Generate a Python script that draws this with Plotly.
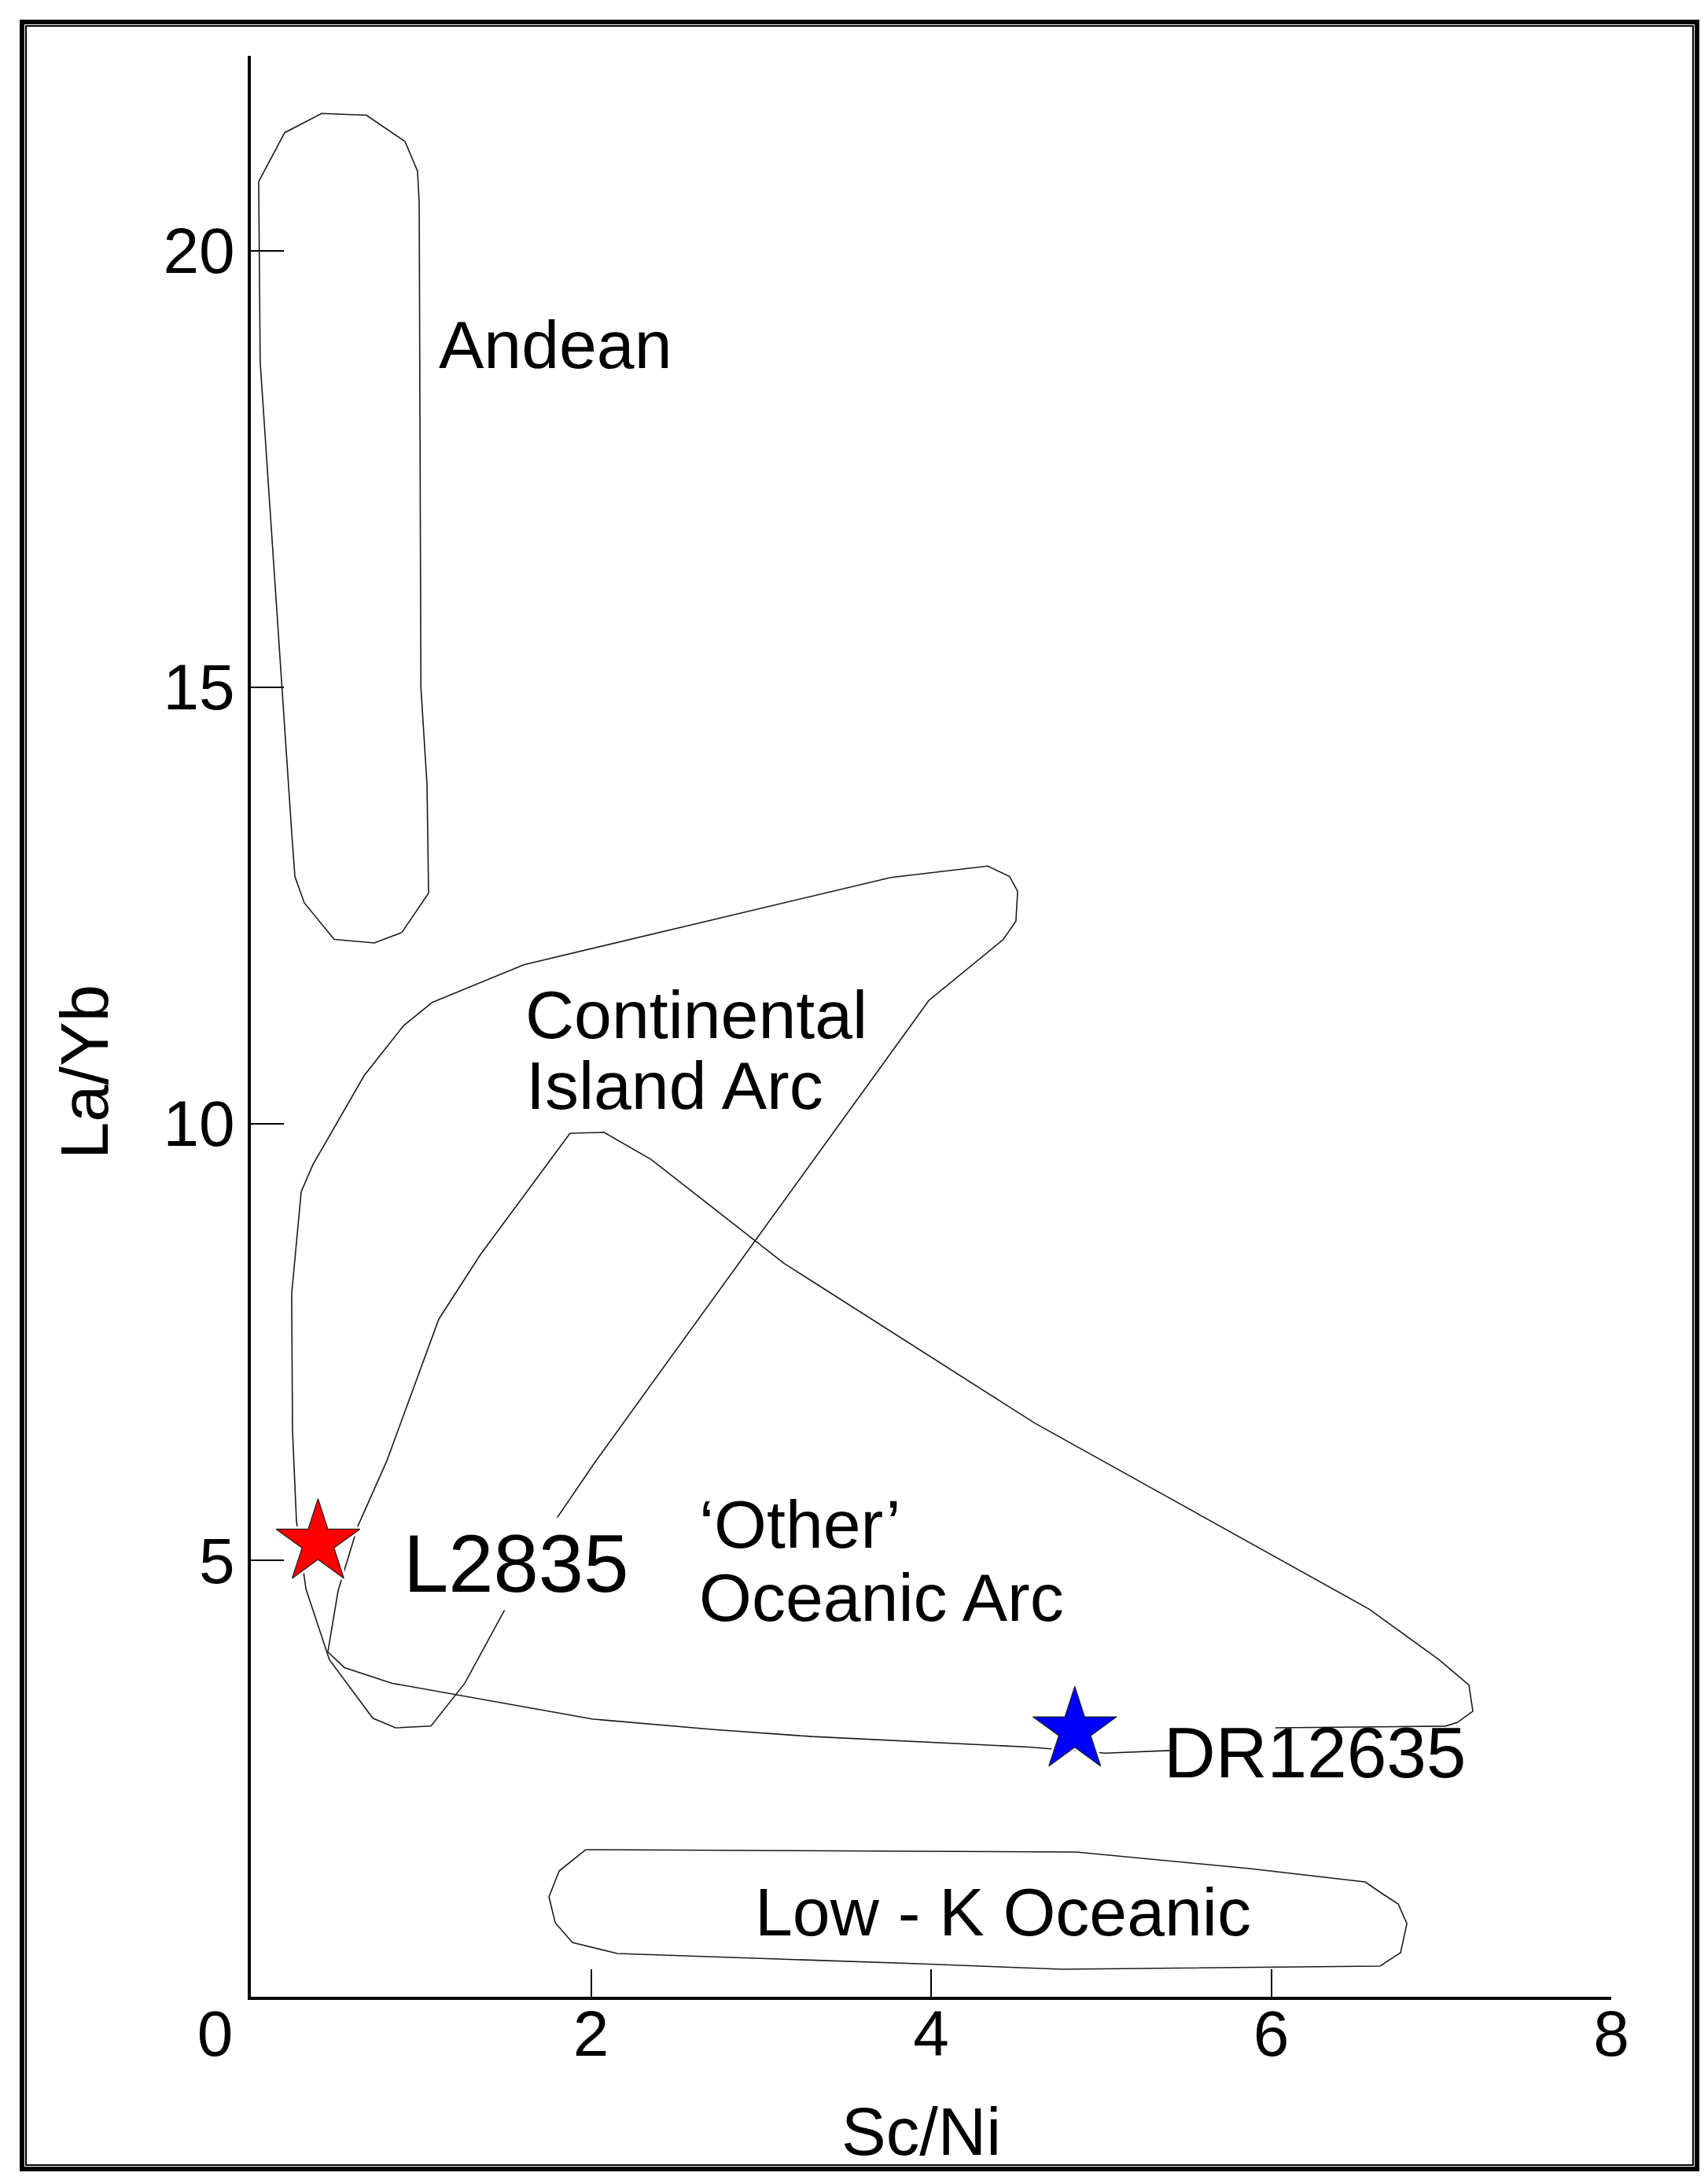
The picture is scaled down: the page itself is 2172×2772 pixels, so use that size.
import plotly.graph_objects as go

# ---------------- data (Sc/Ni vs La/Yb) ----------------
andean_x = [0.046, 0.199, 0.416, 0.680, 0.906, 0.980, 0.990, 1.000, 1.036, 1.045,
            0.888, 0.726, 0.490, 0.314, 0.259, 0.240, 0.055, 0.046]
andean_y = [20.79, 21.35, 21.57, 21.55, 21.25, 20.91, 20.55, 15.00, 13.88, 12.64,
            12.19, 12.07, 12.11, 12.53, 12.83, 13.34, 18.72, 20.79]

cont_x = [1.068, 1.605, 3.764, 4.333, 4.462, 4.509, 4.499, 4.425, 3.986, 3.935,
          2.030, 1.743, 1.498, 1.258, 1.059, 0.851, 0.717, 0.462, 0.324, 0.268,
          0.245, 0.240, 0.296, 0.365, 0.666, 0.897, 1.068]
cont_y = [11.39, 11.82, 12.82, 12.95, 12.83, 12.66, 12.32, 12.11, 11.41, 11.27,
          6.14, 5.32, 4.45, 3.59, 3.10, 3.08, 3.19, 3.86, 4.67, 5.45,
          6.49, 8.05, 9.22, 9.53, 10.55, 11.12, 11.39]

# None = where the outline is hidden behind the "DR12635" label
ocean_x = [1.877, 2.076, 2.354, 3.135, 4.610, 6.192, 6.576, 6.987, 7.163, 7.186,
           7.094, 7.024, 6.025, None, 5.406, 5.027, 4.573, 3.302, 2.724, 2.012, 0.832,
           0.550, 0.453, 0.513, 0.629, 0.800, 1.105, 1.350, 1.877]
ocean_y = [9.89, 9.90, 9.59, 8.40, 6.57, 4.86, 4.44, 3.86, 3.57, 3.27,
           3.14, 3.10, 3.08, None, 2.82, 2.79, 2.86, 2.98, 3.06, 3.18, 3.59,
           3.77, 3.95, 4.65, 5.39, 6.14, 7.76, 8.50, 9.89]

lowk_x = [1.970, 4.855, 5.873, 6.553, 6.654, 6.747, 6.798, 6.761, 6.640, 4.772,
          3.926, 2.155, 1.891, 1.790, 1.753, 1.813, 1.970]
lowk_y = [1.685, 1.658, 1.468, 1.315, 1.180, 1.063, 0.838, 0.505, 0.351, 0.315,
          0.378, 0.495, 0.622, 0.847, 1.144, 1.441, 1.685]

sample_names = ["L2835", "DR12635"]
sample_x = [0.395, 4.845]
sample_y = [5.20, 3.05]
sample_colors = ["#ff0000", "#0000ff"]

x_tickvals = [0, 2, 4, 6, 8]
x_ticktext = ["0\u00a0\u00a0\u00a0\u00a0", "2", "4", "6", "8"]
y_tickvals = [5, 10, 15, 20]
y_ticktext = ["5", "10", "15", "20"]

field_labels = ["Andean", "Continental", "Island Arc", "\u2018Other\u2019", "Oceanic Arc", "Low - K Oceanic"]
field_label_x = [1.098, 1.603, 1.607, 2.625, 2.625, 2.955]
field_label_y = [18.92, 11.25, 10.44, 5.41, 4.58, 0.97]

sample_label_x = [0.890, 5.360]
sample_label_y = [4.96, 2.80]

# ---------------- layout geometry ----------------
W, H = 2172, 2772
L, R, T, B = 311, 131, 63, 241
PW, PH = W - L - R, H - T - B
FONT = "Liberation Sans, Arial, sans-serif"


def px_x(p):
    return (p - L) / PW


def px_y(p):
    return (H - B - p) / PH


fig = go.Figure()

line_style = dict(color="#1a1a1a", width=1.6)
for xs, ys in [(andean_x, andean_y), (cont_x, cont_y), (ocean_x, ocean_y), (lowk_x, lowk_y)]:
    fig.add_trace(go.Scatter(x=xs, y=ys, mode="lines", line=line_style,
                             connectgaps=False, hoverinfo="skip", showlegend=False))

# white halo behind the stars
fig.add_trace(go.Scatter(x=sample_x, y=sample_y, mode="markers",
                         marker=dict(symbol="star", size=96, color="white",
                                     line=dict(width=0)),
                         hoverinfo="skip", showlegend=False))
fig.add_trace(go.Scatter(x=sample_x, y=sample_y, mode="markers",
                         marker=dict(symbol="star", size=80, color=sample_colors,
                                     line=dict(width=1.2, color="#222222")),
                         text=sample_names, showlegend=False))

annotations = []
for t, x, y in zip(field_labels, field_label_x, field_label_y):
    annotations.append(dict(text=t, x=x, y=y, xref="x", yref="y", xanchor="left",
                            yanchor="middle", showarrow=False,
                            font=dict(family=FONT, size=86, color="black")))
sample_font_sizes = [103, 91]
sample_bg = ["white", "rgba(0,0,0,0)"]
for t, x, y, fs, bg in zip(sample_names, sample_label_x, sample_label_y, sample_font_sizes, sample_bg):
    annotations.append(dict(text=t, x=x, y=y, xref="x", yref="y", xanchor="left",
                            yanchor="middle", showarrow=False, bgcolor=bg,
                            font=dict(family=FONT, size=fs, color="black")))

# axis titles
annotations.append(dict(text="La/Yb", x=px_x(100), y=px_y(1355), xref="paper", yref="paper",
                        xanchor="center", yanchor="middle", textangle=-90, showarrow=False,
                        font=dict(family=FONT, size=85, color="black")))
annotations.append(dict(text="Sc/Ni", x=px_x(1163), y=px_y(2703), xref="paper", yref="paper",
                        xanchor="center", yanchor="middle", showarrow=False,
                        font=dict(family=FONT, size=85, color="black")))

shapes = [
    dict(type="rect", xref="paper", yref="paper",
         x0=px_x(20), x1=px_x(2150), y0=px_y(2750), y1=px_y(20),
         line=dict(color="black", width=6), fillcolor="rgba(0,0,0,0)"),
    dict(type="rect", xref="paper", yref="paper",
         x0=px_x(25), x1=px_x(2145), y0=px_y(2745), y1=px_y(25),
         line=dict(color="black", width=2), fillcolor="rgba(0,0,0,0)"),
]

fig.update_layout(
    width=W, height=H,
    margin=dict(l=L, r=R, t=T, b=B, autoexpand=False),
    paper_bgcolor="white", plot_bgcolor="white",
    showlegend=False,
    font=dict(family=FONT, color="black"),
    annotations=annotations,
    shapes=shapes,
    xaxis=dict(range=[0, 8], tickvals=x_tickvals, ticktext=x_ticktext,
               ticks="inside", ticklen=35, tickwidth=1.5, tickcolor="black",
               showline=True, linewidth=4, linecolor="black",
               showgrid=False, zeroline=False, ticklabelstandoff=-27,
               tickfont=dict(family=FONT, size=82, color="black")),
    yaxis=dict(range=[0, 22.23], tickvals=y_tickvals, ticktext=y_ticktext,
               ticks="inside", ticklen=42, tickwidth=1.5, tickcolor="black",
               showline=True, linewidth=4, linecolor="black",
               showgrid=False, zeroline=False,
               tickfont=dict(family=FONT, size=82, color="black")),
)

fig.write_html("out.html")
